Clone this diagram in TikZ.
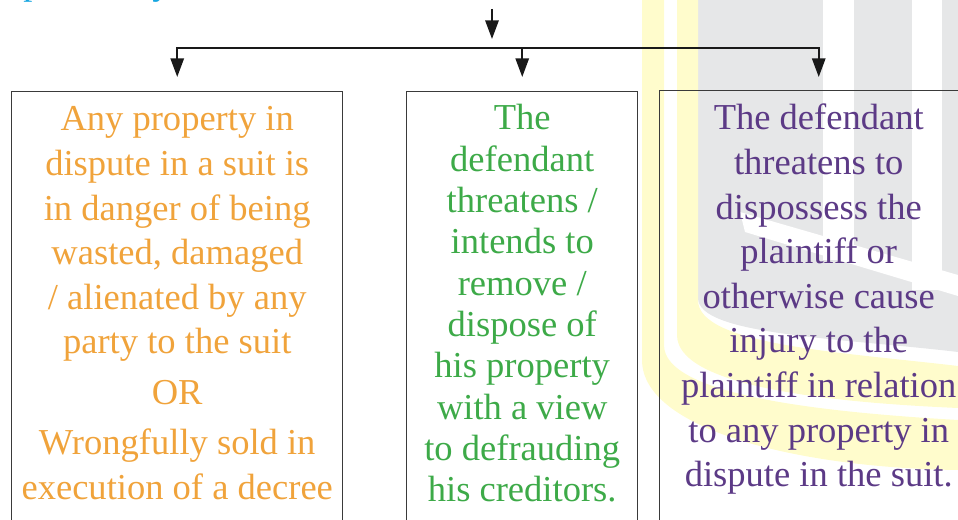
\documentclass[tikz,border=0pt]{standalone}
\usepackage{fontspec}
\setmainfont{Liberation Serif}
\usetikzlibrary{arrows.meta}

\definecolor{txtorange}{HTML}{F0A33B}
\definecolor{txtgreen}{HTML}{3DAA48}
\definecolor{txtpurple}{HTML}{5C3A86}
\definecolor{txtcyan}{HTML}{14A5E0}
\definecolor{wmgrey}{HTML}{E6E7E8}
\definecolor{wmyellow}{HTML}{FFFCCC}
\definecolor{framegrey}{HTML}{3A3A3A}

% body text size with a chosen line pitch
\newcommand{\boxfont}[1]{\fontsize{27.4pt}{#1}\selectfont}

\tikzset{
  framebox/.style={draw=framegrey, line width=1.1pt, anchor=north west,
    inner sep=0pt, minimum height=330pt},
  flow/.style={draw=black!90, line width=1.5pt,
    -{Triangle[width=10pt,length=14pt]}},
  boxtext/.style={anchor=base, inner sep=0pt},
}

\begin{document}
\begin{tikzpicture}[x=0.75pt, y=-0.75pt]
\useasboundingbox (0,0) rectangle (958,520);
\clip (0,0) rectangle (958,520);

% ---- faint emblem in the background ----
% grey body
\fill[wmgrey] (698,0) -- (958,0) -- (958,352)
  .. controls (840,338) and (698,335) .. (698,298) -- cycle;
% white cuts through the grey body
\fill[white] (823,0) rectangle (854,260);
\fill[white] (912,0) rectangle (942,290);
\fill[white] (740,212) -- (958,275) -- (958,296) -- (745,232) -- cycle;
% two yellow bands sweeping round the bottom
\fill[wmyellow] (642,0) -- (642,360)
  .. controls (642,430) and (800,468) .. (958,470)
  -- (958,420) .. controls (820,412) and (664,395) .. (664,345) -- (664,0) -- cycle;
\fill[wmyellow] (677,0) -- (677,335)
  .. controls (677,385) and (820,402) .. (958,408)
  -- (958,366) .. controls (840,352) and (698,345) .. (698,300) -- (698,0) -- cycle;

% ---- heading fragments above the chart ----
\node[anchor=base west, inner sep=0pt, text=txtcyan, font=\boxfont{33pt}] (fragp) at (23,-5) {p};
\node[anchor=base west, inner sep=0pt, text=txtcyan, font=\boxfont{33pt}] (fragy) at (152,-5) {y};

% ---- the three condition boxes ----
\node[framebox, minimum width=248.25pt] (b1) at (11,91) {};
\node[framebox, minimum width=173.25pt] (b2) at (406,91) {};
\node[framebox, minimum width=238.5pt]  (b3) at (659,90) {};

% ---- connectors ----
\coordinate (src)  at (492,9);
\coordinate (srcend) at (492,39);
\coordinate (fork) at (492,48);
\coordinate (in1) at ([yshift=10.5pt]b1.north);
\coordinate (in2) at ([yshift=10.5pt]b2.north);
\coordinate (in3) at ([yshift=9.75pt]b3.north);

\draw[flow] (src) -- (srcend);
\draw[flow] (fork) -| (in1);
\draw[flow] (fork) -| (in3);
\draw[flow] (in2 |- fork) -- (in2);

% ---- box texts ----
\node[boxtext, text=txtorange] (t1) at (b1.north |- 0,131) {\parbox[t]{250pt}{\boxfont{33.4pt}\centering
Any property in\\
dispute in a suit is\\
in danger of being\\
wasted, damaged\\
/ alienated by any\\
party to the suit\\[5pt]
OR\\[4pt]
Wrongfully sold in\\
execution of a decree}};

\node[boxtext, text=txtgreen] (t2) at (b2.north |- 0,130) {\parbox[t]{250pt}{\boxfont{31pt}\centering
The\\
defendant\\
threatens /\\
intends to\\
remove /\\
dispose of\\
his property\\
with a view\\
to defrauding\\
his creditors.}};

\node[boxtext, text=txtpurple] (t3) at (b3.north |- 0,130) {\parbox[t]{250pt}{\boxfont{33.45pt}\centering
The defendant\\
threatens to\\
dispossess the\\
plaintiff or\\
otherwise cause\\
injury to the\\
plaintiff in relation\\
to any property in\\
dispute in the suit.}};
\end{tikzpicture}
\end{document}
